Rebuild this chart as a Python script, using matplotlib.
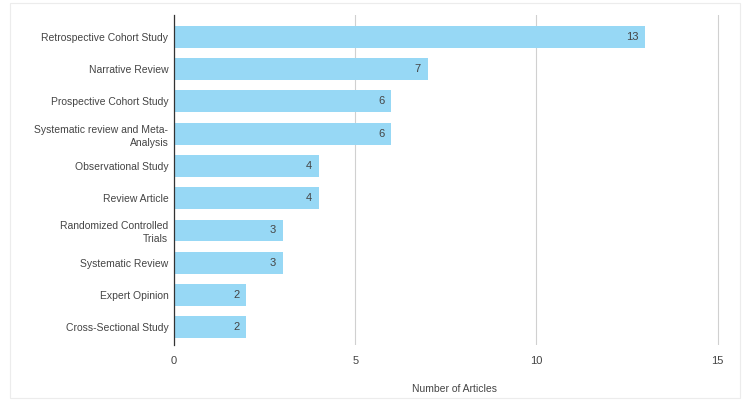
import matplotlib
matplotlib.use('Agg')
import matplotlib.pyplot as plt
from matplotlib.patches import Rectangle

# Study types and article counts (top to bottom)
study_types = [
    'Retrospective Cohort Study',
    'Narrative Review',
    'Prospective Cohort Study',
    'Systematic review and Meta-\nAnalysis',
    'Observational Study',
    'Review Article',
    'Randomized Controlled\nTrials',
    'Systematic Review',
    'Expert Opinion',
    'Cross-Sectional Study',
]
article_counts = [13, 7, 6, 6, 4, 4, 3, 3, 2, 2]
x_ticks = [0, 5, 10, 15]

bar_color = '#97D8F5'
text_color = '#444444'

plt.rcParams['font.family'] = ['Liberation Sans', 'DejaVu Sans']

fig = plt.figure(figsize=(7.5, 4), dpi=100)
ax = fig.add_axes([0.232, 0.1375, 0.749, 0.825])

y = list(range(len(study_types)))
bars = ax.barh(y, article_counts, height=0.68, color=bar_color, zorder=3)

for b, v in zip(bars, article_counts):
    ax.annotate(str(v), xy=(b.get_width(), b.get_y() + b.get_height() / 2),
                xytext=(-5, 0), textcoords='offset points',
                ha='right', va='center', fontsize=8, color=text_color)

ax.set_yticks(y)
ax.set_yticklabels(study_types, fontsize=7.5, color=text_color, linespacing=1.35)
ax.set_ylim(len(study_types) - 0.45, -0.68)

ax.set_xlim(0, 15.5)
ax.set_xticks(x_ticks)
ax.set_xticklabels([str(t) for t in x_ticks], fontsize=8, color=text_color)
ax.set_xlabel('Number of Articles', fontsize=7.5, color=text_color, labelpad=13)

ax.grid(axis='x', color='#d0d0d0', linewidth=0.8, zorder=0)
ax.tick_params(axis='y', length=0, pad=4)
ax.tick_params(axis='x', length=0, pad=8)
for side in ['top', 'right', 'bottom']:
    ax.spines[side].set_visible(False)
ax.spines['left'].set_color('#333333')
ax.spines['left'].set_linewidth(0.9)
ax.spines['left'].set_zorder(4)

# faint outer frame
fig.patches.append(Rectangle((0.013, 0.005), 0.973, 0.988, transform=fig.transFigure,
                             fill=False, edgecolor='#ececec', linewidth=0.8))

fig.savefig('out.png', dpi=100)
